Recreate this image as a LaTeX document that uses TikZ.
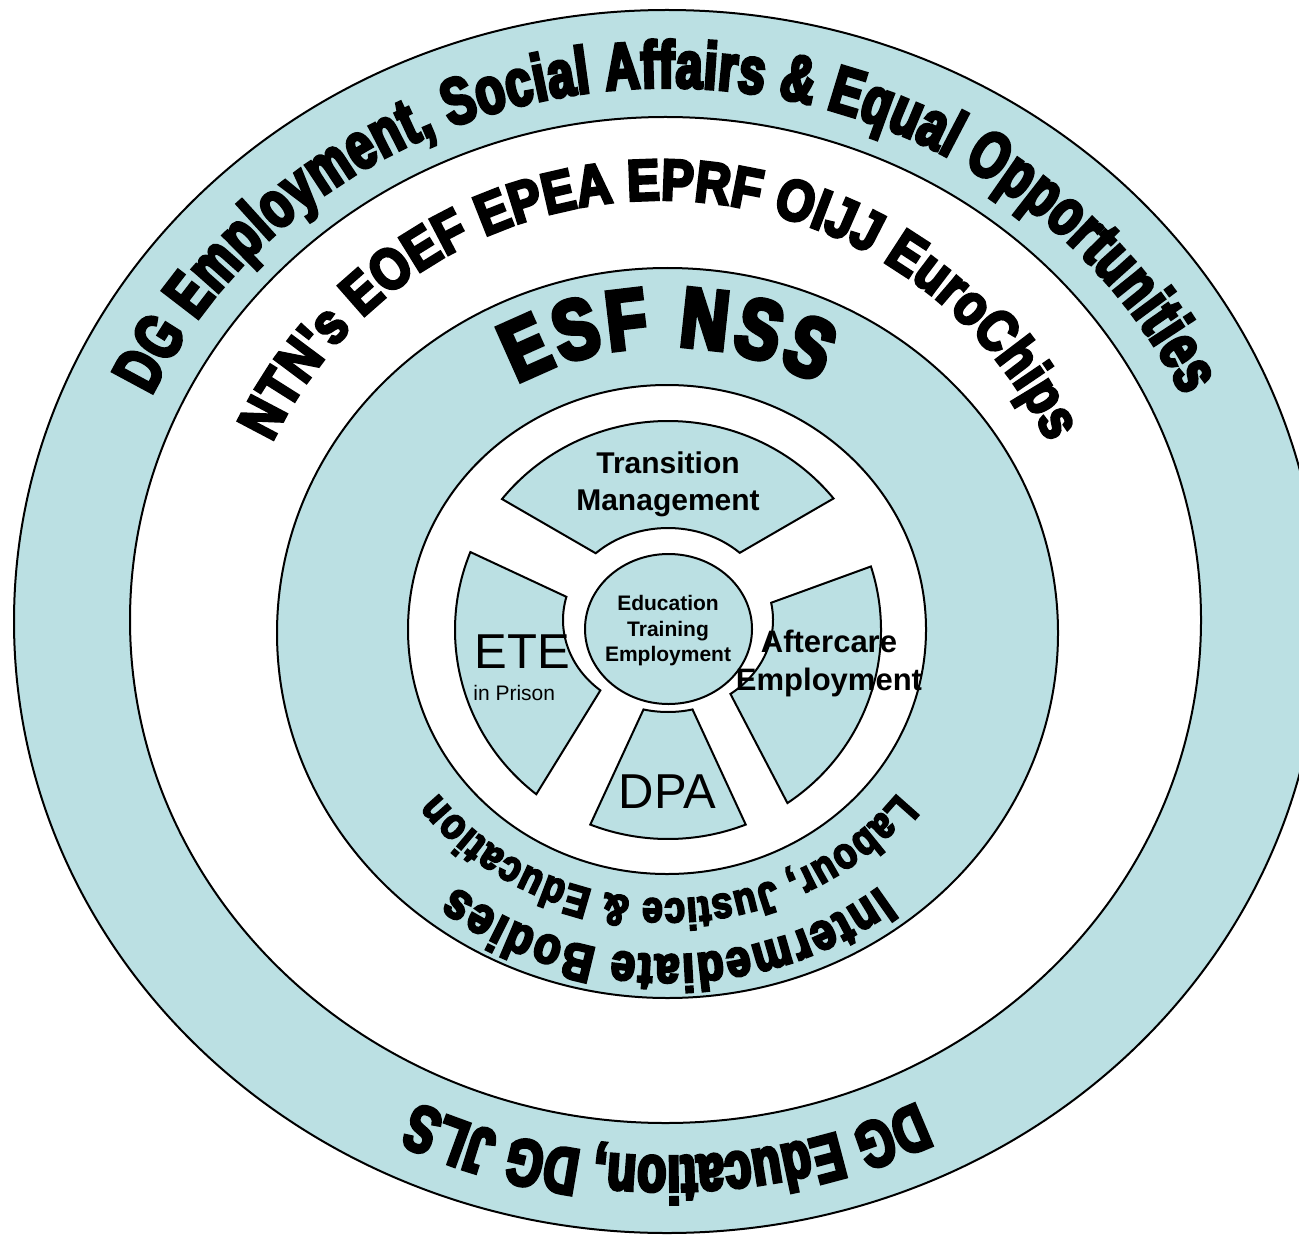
\documentclass[tikz,border=0pt]{standalone}
\usepackage{fontspec}
\setmainfont{Liberation Sans}
\newfontfamily\fdg{Liberation Sans}[FakeStretch=0.72,BoldFeatures={FakeBold=5}]
\newfontfamily\fntn{Liberation Sans}[FakeStretch=0.84,BoldFeatures={FakeBold=5}]
\newfontfamily\fesf{Liberation Sans}[FakeStretch=0.78,BoldFeatures={FakeBold=6}]
\newfontfamily\finter{Liberation Sans}[FakeStretch=0.84,BoldFeatures={FakeBold=5}]
\newfontfamily\flab{Liberation Sans}[FakeStretch=0.84,BoldFeatures={FakeBold=4.5}]
\usetikzlibrary{calc,decorations.text}
\definecolor{pale}{HTML}{BBE0E3}
\newcommand\dgtxt{\fdg\bfseries\fontsize{33}{33}\selectfont}
\newcommand\ntntxt{\fntn\bfseries\fontsize{29}{29}\selectfont}
\newcommand\esftxt{\fesf\bfseries\fontsize{42}{42}\selectfont}
\newcommand\intertxt{\finter\bfseries\fontsize{26}{26}\selectfont}
\newcommand\labtxt{\flab\bfseries\fontsize{22}{22}\selectfont}
\begin{document}
\begin{tikzpicture}[x=0.5pt,y=-0.5pt,
  ringblue/.style={fill=pale,draw=black,line width=1pt},
  ringwhite/.style={fill=white,draw=black,line width=1pt},
  wedge/.style={fill=pale,draw=black,line width=1pt,line join=miter},
  lbl/.style={inner sep=0pt,text=black}]
\useasboundingbox (0,0) rectangle (1299,1235);
\fill[white] (0,0) rectangle (1299,1235);
\clip (0,0) rectangle (1299,1235);
% centres
\coordinate (C1) at (667,621.5);
\coordinate (C2) at (665.5,620);
\coordinate (C2t) at (660,620);
\coordinate (C3) at (667.5,633);
\coordinate (C4) at (667,629.5);
\coordinate (C5) at (668.5,629);
\coordinate (W) at (668,630);
\coordinate (I) at (668,620);
% rings
\draw[ringblue] (C1) ellipse [x radius=653, y radius=611.5];
\draw[ringwhite] (C2) ellipse [x radius=535.5, y radius=503];
\draw[ringblue] (C3) ellipse [x radius=390.5, y radius=365];
\draw[ringwhite] (C4) ellipse [x radius=259, y radius=244.5];
% wedges
\draw[wedge] ($(W)+(218.8:213 and 209)$) arc[start angle=218.8, end angle=321, x radius=213, y radius=209]
  -- ($(I)+(313.1:105 and 92)$) arc[start angle=313.1, end angle=226.5, x radius=105, y radius=92] -- cycle;
\draw[wedge] ($(W)+(342.3:213 and 209)$) arc[start angle=342.3, end angle=415.9, x radius=213, y radius=209]
  -- ($(I)+(413.5:105 and 92)$) arc[start angle=413.5, end angle=349.2, x radius=105, y radius=92] -- cycle;
\draw[wedge] ($(W)+(68.6:213 and 209)$) arc[start angle=68.6, end angle=111.4, x radius=213, y radius=209]
  -- ($(I)+(103.5:105 and 92)$) arc[start angle=103.5, end angle=76.5, x radius=105, y radius=92] -- cycle;
\draw[wedge] ($(W)+(128.2:213 and 209)$) arc[start angle=128.2, end angle=201.9, x radius=213, y radius=209]
  -- ($(I)+(194.6:105 and 92)$) arc[start angle=194.6, end angle=130.1, x radius=105, y radius=92] -- cycle;
% centre
\draw[ringblue] (C5) ellipse [x radius=83.5, y radius=75];
% curved texts
\path[decorate,decoration={text along path,text align={fit to path},
  text={|\dgtxt|DG Employment, Social Affairs {\&} Equal Opportunities}}]
  ($(C1)+(205:569 and 534)$) arc[start angle=205, end angle=335, x radius=569, y radius=534];
\path[decorate,decoration={text along path,text align={fit to path},
  text={|\dgtxt|DG Education, DG JLS}}]
  ($(C1)+(64:571 and 535)$) arc[start angle=64, end angle=116, x radius=571, y radius=535];
\path[decorate,decoration={text along path,text align={fit to path},
  text={|\ntntxt|NTN's EOEF EPEA EPRF OIJJ EuroChips}}]
  ($(C2t)+(205:428 and 420)$) arc[start angle=205, end angle=335, x radius=428, y radius=420];
\path[decorate,decoration={text along path,text align={fit to path},
  text={|\esftxt|ESF NSS}}]
  ($(C3)+(240.5:305 and 287)$) arc[start angle=240.5, end angle=299.5, x radius=305, y radius=287];
\path[decorate,decoration={text along path,text align={fit to path},
  text={|\intertxt|Intermediate Bodies}}]
  ($(C3)+(52:344 and 322)$) arc[start angle=52, end angle=128, x radius=344, y radius=322];
\path[decorate,decoration={text along path,text align={fit to path},
  text={|\labtxt|Labour, Justice {\&} Education}}]
  ($(C3)+(37:288 and 266)$) arc[start angle=37, end angle=143, x radius=288, y radius=266];
% wheel labels
\node[lbl,font=\bfseries\fontsize{15}{18.5}\selectfont,align=center] (tm) at (668,484.5) {Transition\\Management};
\node[lbl,font=\bfseries\fontsize{10.5}{12.75}\selectfont,align=center] (ctr) at (668,631) {Education\\Training\\Employment};
\node[lbl,font=\bfseries\fontsize{15.5}{19}\selectfont,align=center] (ac) at (829,663) {Aftercare\\Employment};
\node[lbl,font=\fontsize{24.5}{29}\selectfont,anchor=base west] (ete) at (474,668) {ETE};
\node[lbl,font=\fontsize{10.5}{12}\selectfont,anchor=base west] (prison) at (473,700) {in Prison};
\node[lbl,font=\fontsize{24.5}{29}\selectfont,anchor=base] (dpa) at (667.5,808) {DPA};
\end{tikzpicture}
\end{document}
